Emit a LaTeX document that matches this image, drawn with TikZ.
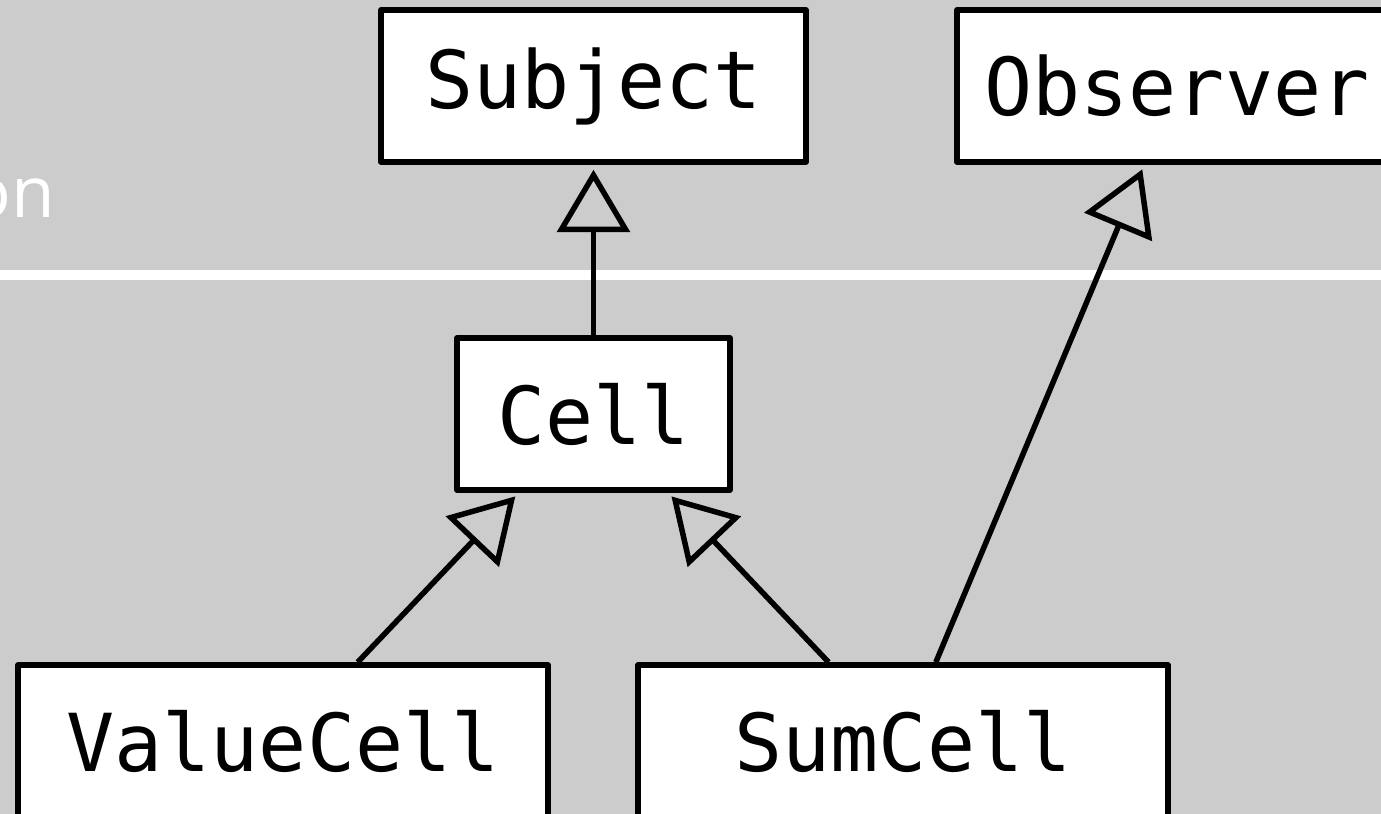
\documentclass[tikz,border=0pt]{standalone}
\usepackage{fontspec}
\setmonofont{DejaVu Sans Mono}
\newfontfamily\headfont{Open Sans}
\usetikzlibrary{arrows.meta}
\definecolor{slide}{HTML}{CCCCCC}
\begin{document}
\begin{tikzpicture}[
    cls/.style={draw, fill=white, line width=0.11cm, line join=round,
        minimum height=3.04cm, inner sep=0pt,
        font=\fontsize{45.5}{50}\selectfont\ttfamily},
    inherit/.style={line width=0.11cm, shorten >=0.1cm,
        -{Triangle[open, length=1.25cm, width=1.45cm]}}]
    \fill[slide] (0,0) rectangle (27.62,16.28);
    \useasboundingbox (0,0) rectangle (27.62,16.28);
    \fill[white] (0,10.68) rectangle (27.62,10.88);
    \node[anchor=base west, inner sep=0pt, text=white,
        font=\fontsize{40.4}{44}\selectfont\headfont] (title) at (-0.64,11.92) {on};
    \node[cls, minimum width=8.5cm] (subject) at (11.87,14.56) {Subject};
    \node[cls, minimum width=8.8cm] (observer) at (23.54,14.56) {Observer};
    \node[cls, minimum width=5.46cm] (cell) at (11.87,8.0) {Cell};
    \node[cls, minimum width=10.6cm] (valuecell) at (5.66,1.46) {ValueCell};
    \node[cls, minimum width=10.6cm] (sumcell) at (18.06,1.46) {SumCell};
    \draw[inherit] (cell) -- (subject);
    \draw[inherit] (valuecell) -- (cell);
    \draw[inherit] (sumcell) -- (cell);
    \draw[inherit] (sumcell) -- (observer);
\end{tikzpicture}
\end{document}
